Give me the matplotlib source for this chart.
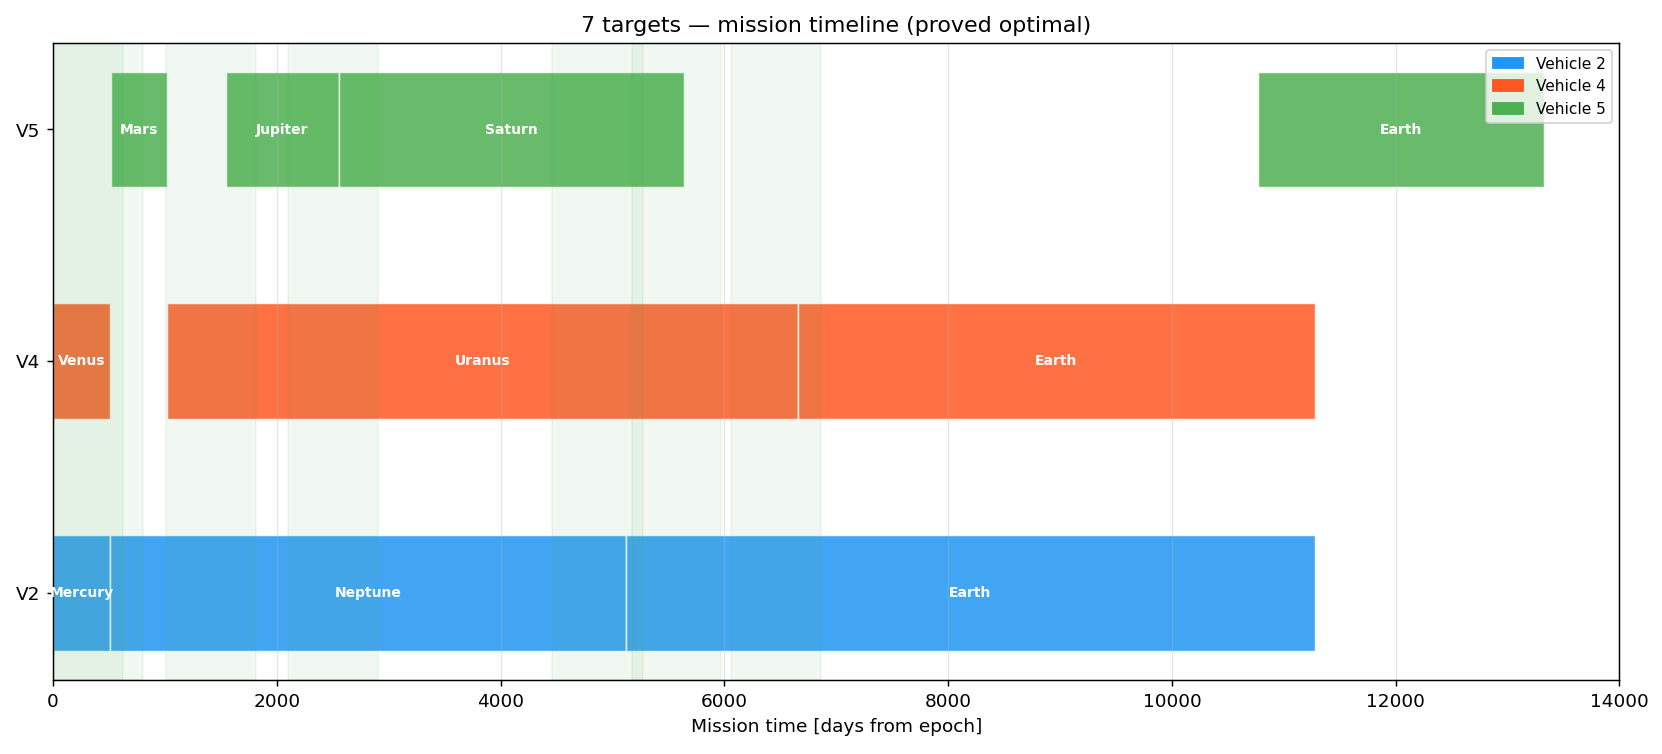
import matplotlib
matplotlib.use('Agg')
import matplotlib.pyplot as plt
from matplotlib.patches import Patch

# 차량별 일정 (시작일, 종료일, 목표)
vehicles = ['V2', 'V4', 'V5']
vehicle_names = ['Vehicle 2', 'Vehicle 4', 'Vehicle 5']
vehicle_colors = ['#2196F3', '#FF5722', '#4CAF50']

v2_targets = ['Mercury', 'Neptune', 'Earth']
v2_start = [0, 506, 5121]
v2_end = [506, 5121, 11276]

v4_targets = ['Venus', 'Uranus', 'Earth']
v4_start = [0, 1022, 6655]
v4_end = [507, 6655, 11276]

v5_targets = ['Mars', 'Jupiter', 'Saturn', 'Earth']
v5_start = [515, 1544, 2553, 10766]
v5_end = [1015, 2553, 5635, 13323]

# 발사 가능 구간 (배경 음영)
window_start = [0, 0, 1010, 2104, 4458, 5174, 6058]
window_end = [623, 802, 1815, 2908, 5272, 5969, 6866]

schedules = [
    (v2_targets, v2_start, v2_end),
    (v4_targets, v4_start, v4_end),
    (v5_targets, v5_start, v5_end),
]

fig = plt.figure(figsize=(12.5, 5.67), dpi=133)
ax = fig.add_axes([0.0319, 0.0981, 0.9422, 0.8453])

for row, (targets, starts, ends) in enumerate(schedules):
    color = vehicle_colors[row]
    widths = [e - s for s, e in zip(starts, ends)]
    ax.barh(row, widths, left=starts, height=0.5, color=color, alpha=0.85,
            edgecolor='white', linewidth=0.8)
    for name, s, e in zip(targets, starts, ends):
        ax.text((s + e) / 2, row, name, ha='center', va='center',
                color='white', fontsize=7.5, fontweight='bold')

for s, e in zip(window_start, window_end):
    ax.axvspan(s, e, color='#4CAF50', alpha=0.08)

ax.set_yticks(range(len(vehicles)))
ax.set_yticklabels(vehicles)
ax.set_xlim(0, 14000)
ax.set_xlabel('Mission time [days from epoch]')
ax.set_title('7 targets — mission timeline (proved optimal)')
ax.grid(axis='x', alpha=0.3)

handles = [Patch(color=c, label=n) for c, n in zip(vehicle_colors, vehicle_names)]
ax.legend(handles=handles, loc='upper right', fontsize='small')

fig.savefig('out.png', dpi=133)
